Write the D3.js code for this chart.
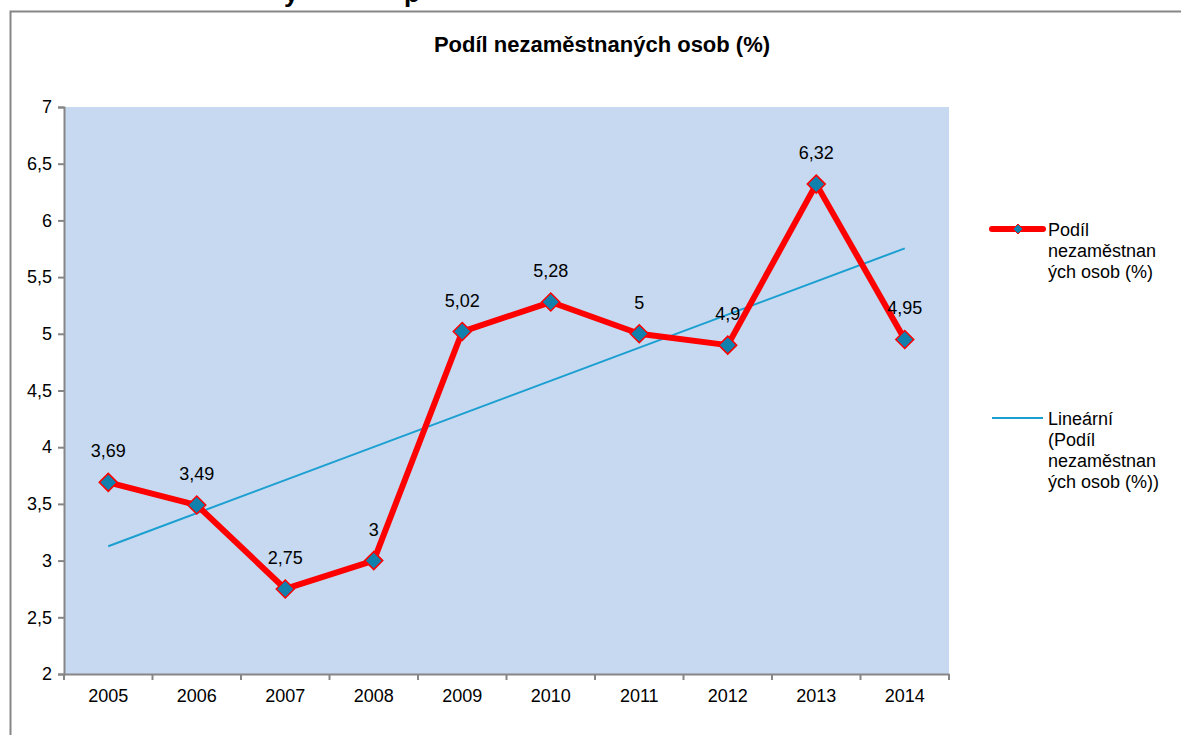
<!DOCTYPE html>
<html>
  <head>
    <meta charset="utf-8" />
    <title>Podíl nezaměstnaných osob (%)</title>
    <style>
      body {
        margin: 0;
        background: #fff;
      }
      svg text {
        font-family: "Liberation Sans", Arial, sans-serif;
      }
    </style>
    <script src="https://d3js.org/d3.v7.min.js"></script>
  </head>
  <body>
    <div id="chart"></div>
    <script type="text/javascript">
      // data
      var years = ["2005", "2006", "2007", "2008", "2009", "2010", "2011", "2012", "2013", "2014"];
      var values = [3.69, 3.49, 2.75, 3, 5.02, 5.28, 5, 4.9, 6.32, 4.95];
      var yTicks = [2, 2.5, 3, 3.5, 4, 4.5, 5, 5.5, 6, 6.5, 7];
      var seriesName = ["Podíl", "nezaměstnan", "ých osob (%)"];
      var trendName = ["Lineární", "(Podíl", "nezaměstnan", "ých osob (%))"];

      var w = 1181;
      var h = 735;
      var plot = { left: 64, top: 107, right: 949, bottom: 674 };

      var svg = d3.select("#chart").append("svg").attr("width", w).attr("height", h);

      // cut-off heading above the chart (only descenders visible)
      svg.append("text").attr("x", 284).attr("y", 2).attr("font-size", 26)
        .attr("font-weight", "bold").text("y");
      svg.append("text").attr("x", 404).attr("y", 2).attr("font-size", 26)
        .attr("font-weight", "bold").text("p");

      // chart border
      svg.append("path")
        .attr("d", "M10.5," + (h + 2) + "V11.5H" + (w + 2))
        .attr("fill", "none")
        .attr("stroke", "#868686")
        .attr("stroke-width", 2);

      svg.append("text")
        .attr("x", 602)
        .attr("y", 52)
        .attr("text-anchor", "middle")
        .attr("font-size", 22)
        .attr("font-weight", "bold")
        .text("Podíl nezaměstnaných osob (%)");

      var x = d3.scaleBand().domain(years).range([plot.left, plot.right]);
      var y = d3.scaleLinear().domain([2, 7]).range([plot.bottom, plot.top]);

      svg.append("rect")
        .attr("x", plot.left)
        .attr("y", plot.top)
        .attr("width", plot.right - plot.left)
        .attr("height", plot.bottom - plot.top)
        .attr("fill", "#c6d9f0");

      // y axis
      var yAxis = svg.append("g")
        .attr("transform", "translate(" + plot.left + ",0)")
        .call(d3.axisLeft(y).tickValues(yTicks).tickSize(6).tickPadding(6)
          .tickFormat(function (d) { return String(d).replace(".", ","); }));
      yAxis.attr("font-size", 18).attr("font-family", "Liberation Sans, Arial, sans-serif");
      yAxis.select(".domain").attr("stroke", "#868686").attr("stroke-width", 2);
      yAxis.selectAll(".tick line").attr("stroke", "#868686").attr("stroke-width", 2);
      yAxis.selectAll("text").attr("fill", "#000");

      // x axis: ticks at category boundaries
      var xAxis = svg.append("g")
        .attr("transform", "translate(0," + plot.bottom + ")")
        .call(d3.axisBottom(x).tickSize(0).tickPadding(15));
      xAxis.attr("font-size", 18).attr("font-family", "Liberation Sans, Arial, sans-serif");
      xAxis.select(".domain").attr("stroke", "#868686").attr("stroke-width", 2);
      xAxis.selectAll("text").attr("fill", "#000");
      xAxis.selectAll(".bound")
        .data(years.concat(["end"]))
        .enter()
        .append("line")
        .attr("x1", function (d, i) { return plot.left + i * x.bandwidth(); })
        .attr("x2", function (d, i) { return plot.left + i * x.bandwidth(); })
        .attr("y1", 0)
        .attr("y2", 6)
        .attr("stroke", "#868686")
        .attr("stroke-width", 2);

      var cx = function (d, i) { return x(years[i]) + x.bandwidth() / 2; };

      // linear trend (least squares over the series)
      var n = values.length;
      var mx = d3.mean(values, function (d, i) { return i + 1; });
      var my = d3.mean(values);
      var sxy = d3.sum(values, function (d, i) { return (i + 1 - mx) * (d - my); });
      var sxx = d3.sum(values, function (d, i) { return (i + 1 - mx) * (i + 1 - mx); });
      var slope = sxy / sxx;
      var icpt = my - slope * mx;
      var trend = [icpt + slope, icpt + slope * n];

      svg.append("line")
        .attr("x1", x(years[0]) + x.bandwidth() / 2)
        .attr("y1", y(trend[0]))
        .attr("x2", x(years[n - 1]) + x.bandwidth() / 2)
        .attr("y2", y(trend[1]))
        .attr("stroke", "#1a9fd0")
        .attr("stroke-width", 2);

      var line = d3.line().x(cx).y(function (d) { return y(d); });

      svg.append("path")
        .datum(values)
        .attr("d", line)
        .attr("fill", "none")
        .attr("stroke", "#ff0000")
        .attr("stroke-width", 6)
        .attr("stroke-linejoin", "round");

      var diamond = "M0,-9L9,0L0,9L-9,0Z";

      svg.selectAll(".marker")
        .data(values)
        .enter()
        .append("path")
        .attr("class", "marker")
        .attr("d", diamond)
        .attr("transform", function (d, i) { return "translate(" + cx(d, i) + "," + y(d) + ")"; })
        .attr("fill", "#1180ad")
        .attr("stroke", "#ff0000")
        .attr("stroke-width", 1.5);

      svg.selectAll(".label")
        .data(values)
        .enter()
        .append("text")
        .attr("class", "label")
        .attr("x", cx)
        .attr("y", function (d) { return y(d) - 25; })
        .attr("text-anchor", "middle")
        .attr("font-size", 18)
        .text(function (d) { return String(d).replace(".", ","); });

      // legend
      var lg = svg.append("g");
      lg.append("line").attr("x1", 992).attr("x2", 1043).attr("y1", 229).attr("y2", 229)
        .attr("stroke", "#ff0000").attr("stroke-width", 6).attr("stroke-linecap", "round");
      lg.append("path").attr("d", "M0,-5L5,0L0,5L-5,0Z")
        .attr("transform", "translate(1018,229)")
        .attr("fill", "#1180ad").attr("stroke", "#ff0000").attr("stroke-width", 1);
      lg.selectAll(".s1").data(seriesName).enter().append("text")
        .attr("x", 1048).attr("y", function (d, i) { return 236 + i * 21; })
        .attr("font-size", 18).text(function (d) { return d; });

      lg.append("line").attr("x1", 992).attr("x2", 1043).attr("y1", 418).attr("y2", 418)
        .attr("stroke", "#1a9fd0").attr("stroke-width", 2);
      lg.selectAll(".s2").data(trendName).enter().append("text")
        .attr("x", 1048).attr("y", function (d, i) { return 425 + i * 21; })
        .attr("font-size", 18).text(function (d) { return d; });
    </script>
  </body>
</html>
